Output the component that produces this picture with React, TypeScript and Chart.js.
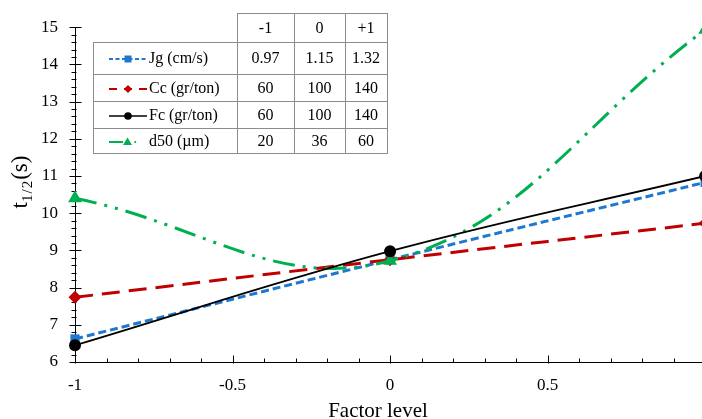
import React, { useEffect, useRef } from "react";
import { Chart, registerables } from "chart.js";

Chart.register(...registerables);

// ---------- data ----------
const factorLevels = [-1, 0, 1];
const jgTimes = [6.62, 8.75, 10.83];
const ccTimes = [7.74, 8.75, 9.73];
const fcTimes = [6.45, 8.98, 11.0];
const d50Times = [10.4, 8.72, 14.93];

const yTickValues = [6, 7, 8, 9, 10, 11, 12, 13, 14, 15];
const xTickValues = [-1, -0.5, 0, 0.5];
const xTickLabels = ["-1", "-0.5", "0", "0.5"];

const xTitle = "Factor level";
const tableHeaders = ["-1", "0", "+1"];
const seriesLabels = ["Jg (cm/s)", "Cc (gr/ton)", "Fc (gr/ton)", "d50 (µm)"];
const jgLevels = ["0.97", "1.15", "1.32"];
const ccLevels = ["60", "100", "140"];
const fcLevels = ["60", "100", "140"];
const d50Levels = ["20", "36", "60"];

const seriesValues = [jgTimes, ccTimes, fcTimes, d50Times];
const tableRows = [jgLevels, ccLevels, fcLevels, d50Levels];

// ---------- styles ----------
const BLUE = "#1f78cf";
const RED = "#c00000";
const BLACK = "#000000";
const GREEN = "#00b050";
const FONT = '"Liberation Serif", Tinos, "Times New Roman", serif';

const seriesStyles = [
  { color: BLUE, dash: [8, 4], width: 3, point: "rect", radius: 6.5 },
  { color: RED, dash: [18, 9], width: 3, point: "rectRot", radius: 6.5 },
  { color: BLACK, dash: [], width: 1.8, point: "circle", radius: 6 },
  { color: GREEN, dash: [22, 8, 3, 8, 3, 8], width: 3, point: "triangle", radius: 8 },
];

const axisTicksPlugin = {
  id: "axisTicks",
  beforeDatasetsDraw(chart: any) {
    const { ctx, scales } = chart;
    const xs = scales.x;
    const ys = scales.y;
    const x0 = Math.round(xs.left) + 0.5;
    const y0 = Math.round(ys.bottom) + 0.5;
    ctx.save();
    ctx.strokeStyle = "#000";
    ctx.lineWidth = 1;
    ctx.beginPath();
    yTickValues.forEach((v, i) => {
      const py = Math.round(ys.getPixelForValue(v)) + 0.5;
      ctx.moveTo(x0 - 6, py);
      ctx.lineTo(x0 + 6, py);
      if (i < yTickValues.length - 1) {
        for (let k = 1; k < 5; k++) {
          const pm = Math.round(ys.getPixelForValue(v + k * 0.2)) + 0.5;
          ctx.moveTo(x0 - 4, pm);
          ctx.lineTo(x0 + 1, pm);
        }
      }
    });
    xTickValues.forEach((v) => {
      const px = Math.round(xs.getPixelForValue(v)) + 0.5;
      ctx.moveTo(px, y0 - 7);
      ctx.lineTo(px, y0 + 1);
      for (let k = 1; k < 5; k++) {
        const pm = Math.round(xs.getPixelForValue(v + k * 0.1)) + 0.5;
        if (pm > xs.right) continue;
        ctx.moveTo(pm, y0 - 4);
        ctx.lineTo(pm, y0);
      }
    });
    ctx.stroke();
    ctx.restore();
  },
};

function LegendSample({ index, top }: { index: number; top: number }) {
  const s = seriesStyles[index];
  const cy = 7;
  let marker: any = null;
  let line: any = null;
  if (index === 0) {
    line = <line x1={0} y1={cy} x2={38} y2={cy} stroke={s.color} strokeWidth={2} strokeDasharray="4 2.5" />;
    marker = <rect x={15.5} y={cy - 3.5} width={7} height={7} fill={s.color} />;
  } else if (index === 1) {
    line = <line x1={0} y1={cy} x2={38} y2={cy} stroke={s.color} strokeWidth={2} strokeDasharray="8 7" />;
    marker = <polygon points={`${19},${cy - 4} ${23},${cy} ${19},${cy + 4} ${15},${cy}`} fill={s.color} />;
  } else if (index === 2) {
    line = <line x1={0} y1={cy} x2={38} y2={cy} stroke={s.color} strokeWidth={1.5} />;
    marker = <circle cx={19} cy={cy} r={3.8} fill={s.color} />;
  } else {
    line = <line x1={0} y1={cy} x2={38} y2={cy} stroke={s.color} strokeWidth={2} strokeDasharray="14 5 1.5 5 1.5 20" />;
    marker = <polygon points={`${18.5},${cy - 4.5} ${23},${cy + 3} ${14},${cy + 3}`} fill={s.color} />;
  }
  return (
    <svg width={39} height={14} style={{ position: "absolute", left: 109, top: top - 7 }}>
      {line}
      {marker}
    </svg>
  );
}

function ParamTable() {
  const colEdges = [93, 237, 294, 345, 387];
  const rowEdges = [13, 42, 74, 101, 128, 153];
  const lineColor = "#8c8c8c";
  const els: any[] = [];
  els.push(
    <div key="bg1" style={{ position: "absolute", left: colEdges[1], top: rowEdges[0], width: colEdges[4] - colEdges[1], height: rowEdges[1] - rowEdges[0], background: "#fff" }} />
  );
  els.push(
    <div key="bg2" style={{ position: "absolute", left: colEdges[0], top: rowEdges[1], width: colEdges[4] - colEdges[0], height: rowEdges[5] - rowEdges[1], background: "#fff" }} />
  );
  rowEdges.forEach((y, i) => {
    const l = i === 0 ? colEdges[1] : colEdges[0];
    els.push(
      <div key={"h" + i} style={{ position: "absolute", left: l, top: y, width: colEdges[4] - l + 1, height: 1, background: lineColor }} />
    );
  });
  colEdges.forEach((x, i) => {
    const t = i === 0 ? rowEdges[1] : rowEdges[0];
    els.push(
      <div key={"v" + i} style={{ position: "absolute", left: x, top: t, width: 1, height: rowEdges[5] - t + 1, background: lineColor }} />
    );
  });
  const cell = (key: string, text: string, l: number, t: number, w: number, h: number) => (
    <div
      key={key}
      style={{
        position: "absolute",
        left: l,
        top: t,
        width: w,
        height: h,
        display: "flex",
        alignItems: "center",
        justifyContent: "center",
        fontFamily: FONT,
        fontSize: 16,
        color: "#000",
        whiteSpace: "nowrap",
      }}
    >
      {text}
    </div>
  );
  tableHeaders.forEach((h, c) => {
    els.push(cell("hd" + c, h, colEdges[c + 1], rowEdges[0], colEdges[c + 2] - colEdges[c + 1], rowEdges[1] - rowEdges[0]));
  });
  tableRows.forEach((row, r) => {
    const t = rowEdges[r + 1];
    const h = rowEdges[r + 2] - t;
    const cy = t + h / 2;
    els.push(<LegendSample key={"ls" + r} index={r} top={cy + 1} />);
    els.push(
      <div
        key={"lt" + r}
        style={{
          position: "absolute",
          left: 149,
          top: t,
          height: h,
          display: "flex",
          alignItems: "center",
          fontFamily: FONT,
          fontSize: 16,
          color: "#000",
          whiteSpace: "nowrap",
        }}
      >
        {seriesLabels[r]}
      </div>
    );
    row.forEach((v, c) => {
      els.push(cell("c" + r + "_" + c, v, colEdges[c + 1], t, colEdges[c + 2] - colEdges[c + 1], h));
    });
  });
  return <>{els}</>;
}

export default function App() {
  const canvasRef = useRef<HTMLCanvasElement | null>(null);

  useEffect(() => {
    const canvas = canvasRef.current;
    if (!canvas) return;
    const datasets = seriesLabels.map((label, i) => {
      const s = seriesStyles[i];
      return {
        label,
        data: factorLevels.map((x, j) => ({ x, y: seriesValues[i][j] })),
        borderColor: s.color,
        backgroundColor: s.color,
        borderWidth: s.width,
        borderDash: s.dash,
        pointStyle: s.point,
        pointRadius: s.radius,
        pointBackgroundColor: s.color,
        pointBorderColor: s.color,
        pointBorderWidth: 0,
        tension: 0.4,
        clip: false,
        fill: false,
        order: i === 2 ? 0 : i === 3 ? 1 : i === 1 ? 2 : 3,
      };
    });
    const chart = new Chart(canvas, {
      type: "line",
      data: { datasets } as any,
      plugins: [axisTicksPlugin],
      options: {
        responsive: false,
        maintainAspectRatio: false,
        animation: false,
        layout: { autoPadding: false, padding: { top: 20, left: 0, right: 0, bottom: 0 } },
        plugins: { legend: { display: false }, tooltip: { enabled: false } },
        scales: {
          x: {
            type: "linear",
            min: -1,
            max: 0.99,
            grid: { display: false, drawTicks: false },
            border: { display: true, color: "#000", width: 1 },
            afterBuildTicks: (s: any) => {
              s.ticks = xTickValues.map((v) => ({ value: v }));
            },
            ticks: {
              padding: 13,
              color: "#000",
              autoSkip: false,
              maxRotation: 0,
              font: { family: FONT, size: 17 },
              callback: (_v: any, idx: number) => xTickLabels[idx],
            },
            afterFit: (s: any) => {
              s.height = 57;
            },
          },
          y: {
            type: "linear",
            min: 6,
            max: 15,
            grid: { display: false, drawTicks: false },
            border: { display: true, color: "#000", width: 1 },
            afterBuildTicks: (s: any) => {
              s.ticks = yTickValues.map((v) => ({ value: v }));
            },
            ticks: {
              padding: 17,
              color: "#000",
              autoSkip: false,
              font: { family: FONT, size: 17 },
              callback: (v: any) => String(v),
            },
            afterFit: (s: any) => {
              s.width = 75;
            },
          },
        },
      } as any,
    });
    return () => chart.destroy();
  }, []);

  return (
    <div style={{ position: "absolute", left: 0, top: 0, width: 702, height: 419, background: "#fff", overflow: "hidden" }}>
      <canvas ref={canvasRef} width={702} height={419} style={{ display: "block", width: 702, height: 419 }} />
      <div
        style={{
          position: "absolute",
          left: 20 - 60,
          top: 182 - 16,
          width: 120,
          height: 32,
          lineHeight: "32px",
          textAlign: "center",
          transform: "rotate(-90deg)",
          fontFamily: FONT,
          fontSize: 23,
          color: "#000",
          whiteSpace: "nowrap",
        }}
      >
        t<sub style={{ fontSize: 15, verticalAlign: "-0.3em", letterSpacing: 1 }}>1/2</sub>(s)
      </div>
      <div
        style={{
          position: "absolute",
          left: 378 - 80,
          top: 398,
          width: 160,
          height: 24,
          lineHeight: "24px",
          textAlign: "center",
          fontFamily: FONT,
          fontSize: 21,
          color: "#000",
          whiteSpace: "nowrap",
        }}
      >
        {xTitle}
      </div>
      <ParamTable />
    </div>
  );
}
